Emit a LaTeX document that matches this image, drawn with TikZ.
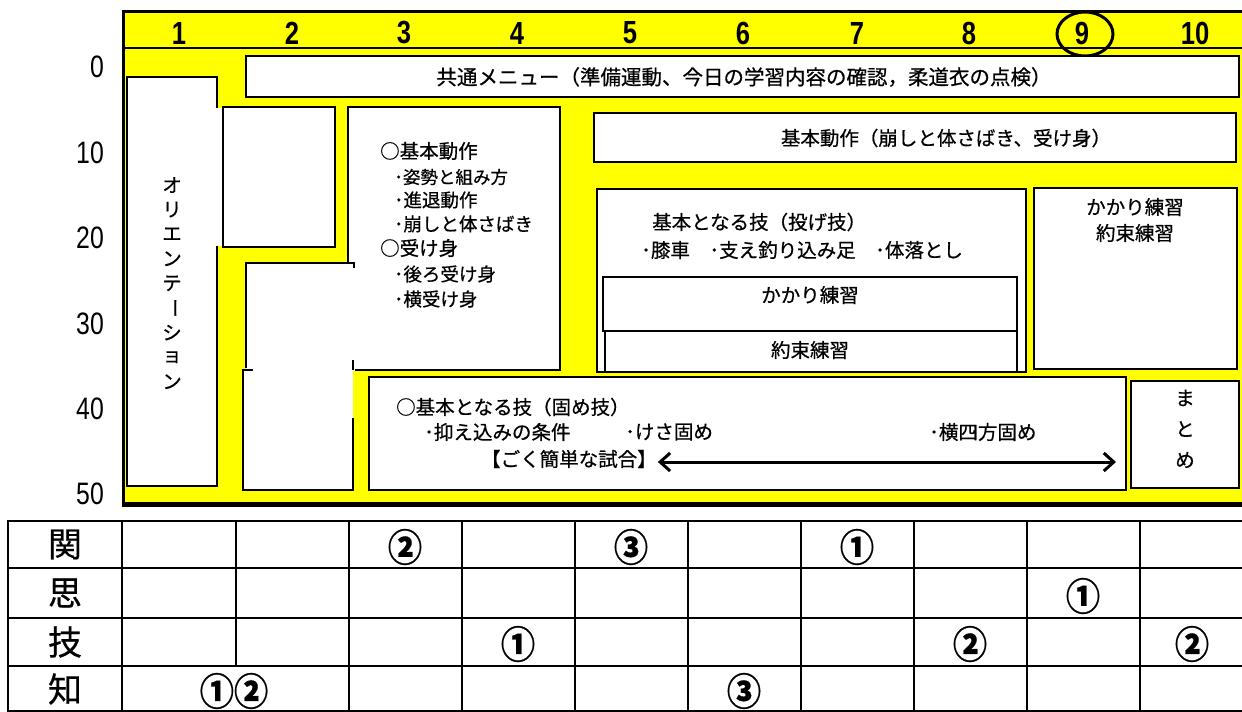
\documentclass[tikz,border=0pt]{standalone}
\usepackage{graphicx}
\usepackage{fontspec}
\setmainfont{Noto Sans CJK JP}[RawFeature={embolden=0.6}]
\newfontfamily\latinf{Liberation Sans}
\usetikzlibrary{arrows.meta}
\definecolor{frameyellow}{RGB}{255,255,0}
\newcommand{\fsz}[1]{\fontsize{#1}{#1}\selectfont}
\begin{document}
\begin{tikzpicture}[x=1pt,y=-1pt,
  boxline/.style={draw=black,line width=2pt},
  box/.style={boxline,fill=white},
  lbl/.style={inner sep=0pt,anchor=west,font=\fsz{19.5}},
  sub/.style={inner sep=0pt,anchor=west,font=\fsz{18.5}},
  ctr/.style={inner sep=0pt,font=\fsz{19.5}},
  hdr/.style={inner sep=0pt,font=\latinf\bfseries\fsz{32}},
  axl/.style={inner sep=0pt,anchor=east,font=\latinf\fsz{31}},
  rowlbl/.style={inner sep=0pt,font=\fsz{34}},
  circnum/.style={inner sep=0pt,font=\bfseries\fsz{38}},
  gridline/.style={line width=2pt},
  barb/.style={line width=3pt,{Straight Barb[length=10pt,width=18pt]}-{Straight Barb[length=10pt,width=18pt]}},
]
\useasboundingbox (0,0) rectangle (1242,712);
\fill[white] (0,0) rectangle (1242,712);

% yellow frame
\fill[frameyellow] (123,11) rectangle (1246,504);
\draw[line width=3pt] (1246,11) -- (123,11) -- (123,504);
\draw[line width=4.5pt] (121.5,504.5) -- (1246,504.5);
\draw[line width=2.5pt] (123,48) -- (1246,48);

% header numbers
\foreach \n/\x in {1/179,2/292,3/404,4/517,5/630,6/743,7/857,8/969,9/1082,10/1195}
  \node[hdr] (h\n) at (\x,33) {\scalebox{0.8}[1]{\n}};
\draw[line width=3pt] (1085,34) ellipse [x radius=28, y radius=22];

% axis labels
\foreach \v/\y in {0/67,10/153,20/238,30/324,40/409,50/494}
  \node[axl] (ax\v) at (104,\y) {\scalebox{0.8}[1]{\v}};

% common menu
\draw[box] (246,56) rectangle (1239,97);
\node[ctr,font=\fsz{20.5}] (menu) at (744,77) {共通メニュー（準備運動、今日の学習内容の確認，柔道衣の点検）};

% orientation
\draw[box] (127,77) rectangle (217,486);
\fill[white] (215,108) rectangle (223,246);
\draw[box] (223,107) rectangle (335,247);
\node[ctr] (o1) at (172,185) {オ};
\node[ctr] (o2) at (172,209.6) {リ};
\node[ctr] (o3) at (172,234.2) {エ};
\node[ctr] (o4) at (172,258.8) {ン};
\node[ctr] (o5) at (172,283.4) {テ};
\node[ctr,rotate=-90] (o6) at (172,308) {ー};
\node[ctr] (o7) at (172,332.6) {シ};
\node[ctr] (o8) at (172,357.2) {ョ};
\node[ctr] (o9) at (172,381.8) {ン};

% column 3 box
\draw[box] (348,107) rectangle (560,370);
\fill[white] (246,263) rectangle (355,371);
\draw[boxline] (246,368) -- (246,263) -- (354,263) -- (354,268);
\fill[white] (243,370) rectangle (353,490);
\draw[boxline] (253,370) -- (243,370) -- (243,490) -- (353,490) -- (353,418);
\draw[boxline] (353,360) -- (353,370);
\node[lbl] (d1) at (380,151) {○基本動作};
\node[sub,font=\fsz{17.5}] (d2) at (394,177) {･姿勢と組み方};
\node[sub] (d3) at (394,200) {･進退動作};
\node[sub] (d4) at (394,224) {･崩しと体さばき};
\node[lbl] (d5) at (380,248) {○受け身};
\node[sub] (d6) at (394,274) {･後ろ受け身};
\node[sub] (d7) at (394,299) {･横受け身};

% basic movement bar
\draw[box] (594,113) rectangle (1236,162);
\node[ctr] (kb) at (946,138) {基本動作（崩しと体さばき、受け身）};

% throws box
\draw[box] (597,189) rectangle (1026,372);
\node[lbl] (g1) at (652,222) {基本となる技（投げ技）};
\node[lbl] (g2) at (641,250) {･膝車　･支え釣り込み足　･体落とし};
\draw[box] (603,277) rectangle (1017,331);
\node[ctr] (g3) at (810,295) {かかり練習};
\draw[box] (605,331) rectangle (1017,372);
\node[ctr] (g4) at (810,350) {約束練習};

% right box
\draw[box] (1034,188) rectangle (1237,369);
\node[ctr] (r1) at (1135,207) {かかり練習};
\node[ctr] (r2) at (1135,233) {約束練習};

% holds box
\draw[box] (369,377) rectangle (1126,490);
\node[lbl] (e1) at (396,407) {○基本となる技（固め技）};
\node[lbl] (e2) at (424,432) {･抑え込みの条件};
\node[lbl] (e3) at (625,432) {･けさ固め};
\node[lbl] (e4) at (929,432) {･横四方固め};
\node[lbl] (shiai) at (481,459) {【ごく簡単な試合】};
\coordinate (arrR) at (1116,462);
\draw[barb] ([xshift=1pt,yshift=-3pt]shiai.east) -- (arrR);

% summary
\draw[box] (1131,381) rectangle (1239,488);
\node[ctr] (m1) at (1185,398) {ま};
\node[ctr] (m2) at (1185,429) {と};
\node[ctr] (m3) at (1185,460) {め};

% table
\foreach \y in {521,568,618,666,711}
  \draw[gridline] (7,\y) -- (1246,\y);
\foreach \x in {8,122,349,462,575,688,801,914,1027,1140}
  \draw[gridline] (\x,520) -- (\x,712);
\draw[gridline] (236,520) -- (236,666);
\node[rowlbl] (rk) at (65,544.5) {関};
\node[rowlbl] (rs) at (65,593) {思};
\node[rowlbl] (rg) at (65,642) {技};
\node[rowlbl] (rc) at (65,689) {知};
\node[circnum] (c1) at (405,547) {\scalebox{0.9}[1]{②}};
\node[circnum] (c2) at (631,547) {\scalebox{0.9}[1]{③}};
\node[circnum] (c3) at (857,547) {\scalebox{0.9}[1]{①}};
\node[circnum] (c4) at (1083,596) {\scalebox{0.9}[1]{①}};
\node[circnum] (c5) at (518,644) {\scalebox{0.9}[1]{①}};
\node[circnum] (c6) at (970,644) {\scalebox{0.9}[1]{②}};
\node[circnum] (c7) at (1192,644) {\scalebox{0.9}[1]{②}};
\node[circnum] (c8) at (234,691) {\scalebox{0.9}[1]{①②}};
\node[circnum] (c9) at (744,691) {\scalebox{0.9}[1]{③}};
\end{tikzpicture}
\end{document}
